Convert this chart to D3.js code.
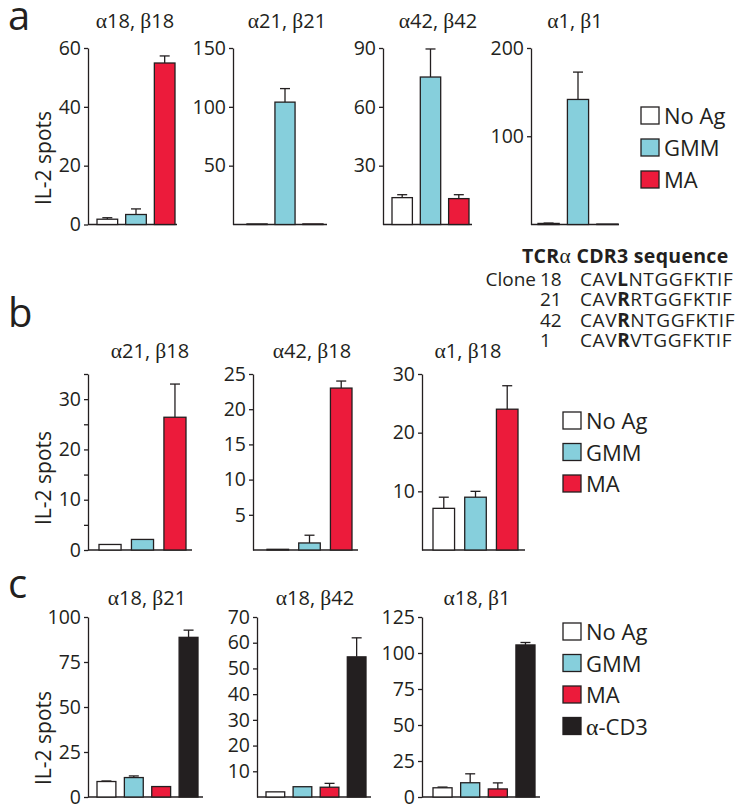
<!DOCTYPE html>
<html><head><meta charset="utf-8">
<script src="https://cdn.jsdelivr.net/npm/d3@7"></script>
<style>html,body{margin:0;padding:0;background:#fff}</style>
</head><body>
<svg id="chart" width="745" height="810"></svg>
<script>
// ---------------- DATA ----------------
const conditions3 = ["No Ag", "GMM", "MA"];
const conditions4 = ["No Ag", "GMM", "MA", "α-CD3"];

const titlesA = ["α18, β18", "α21, β21", "α42, β42", "α1, β1"];
const meansA = [[1.8, 3.4, 54.9], [0.5, 104, 0.5], [13.7, 75.2, 13.2], [1.2, 141.7, 0.5]];
const errsA  = [[0.5, 1.9, 2.4], [0, 11.5, 0], [1.5, 14.3, 2.0], [0.4, 31, 0]];
const maxA   = [60, 150, 90, 200];
const ticksA = [[0, 20, 40, 60], [50, 100, 150], [30, 60, 90], [100, 200]];

const titlesB = ["α21, β18", "α42, β18", "α1, β18"];
const meansB = [[1.1, 2.1, 26.4], [0.1, 1.0, 23.0], [7.1, 9.0, 24.0]];
const errsB  = [[0, 0, 6.6], [0, 1.1, 1.0], [1.9, 1.0, 4.0]];
const maxB   = [35, 25, 30];
const ticksB = [[0, 10, 20, 30], [5, 10, 15, 20, 25], [10, 20, 30]];
const minorTicksB = [[5, 15, 25, 35], [], []];

const titlesC = ["α18, β21", "α18, β42", "α18, β1"];
const meansC = [[8.6, 10.8, 5.8, 88.7], [2.0, 4.0, 3.8, 54.5], [6.4, 9.9, 5.6, 105.6]];
const errsC  = [[0.3, 0.9, 0, 4.0], [0, 0, 1.5, 7.4], [0.5, 6.2, 4.2, 1.7]];
const maxC   = [100, 70, 125];
const ticksC = [[0, 25, 50, 75, 100], [10, 20, 30, 40, 50, 60, 70], [0, 25, 50, 75, 100, 125]];

const yLabel = "IL-2 spots";
const panelLetters = ["a", "b", "c"];

const tcrHeader = ["TCR", "α", " CDR3 sequence"];
const cloneIds = ["18", "21", "42", "1"];
const cdr3Seqs = ["CAVLNTGGFKTIF", "CAVRRTGGFKTIF", "CAVRNTGGFKTIF", "CAVRVTGGFKTIF"];
const boldPos = 3;

// ---------------- STYLE / LAYOUT ----------------
const colors = {"No Ag": "#ffffff", "GMM": "#86cfdc", "MA": "#ec1b3b", "α-CD3": "#231f20"};
const ink = "#231f20";
const sans = "'Open Sans', 'Noto Sans', sans-serif";
const serif = "'Liberation Serif', 'DejaVu Serif', serif";

const svg = d3.select("#chart");

function rich(sel, str) {
  str.split(/([αβ])/).forEach(p => {
    if (!p) return;
    const t = sel.append("tspan").text(p);
    if (/[αβ]/.test(p)) t.attr("font-family", serif).attr("font-size", "1.08em");
  });
  return sel;
}

function drawPlot(cfg) {
  const g = svg.append("g");
  const y = d3.scaleLinear().domain([0, cfg.max]).range([cfg.yBot, cfg.yTop]);
  const x = d3.scaleBand().domain(cfg.cats).range([cfg.barL, cfg.barR]).paddingInner(cfg.pad).paddingOuter(0);

  // y axis
  const ax = g.append("g").attr("transform", `translate(${cfg.axisX},0)`)
    .call(d3.axisLeft(y).tickValues(cfg.ticks).tickSize(4).tickSizeOuter(0).tickPadding(3));
  ax.selectAll("path,line").attr("stroke", ink).attr("stroke-width", 1.3);
  ax.selectAll("text").attr("font-family", sans).attr("font-size", 19.5).attr("fill", ink);
  if (cfg.minor && cfg.minor.length) {
    const mx = g.append("g").attr("transform", `translate(${cfg.axisX},0)`)
      .call(d3.axisLeft(y).tickValues(cfg.minor).tickSize(4).tickSizeOuter(0).tickFormat(""));
    mx.select("path").remove();
    mx.selectAll("line").attr("stroke", ink).attr("stroke-width", 1.3);
  }
  // baseline
  g.append("line").attr("x1", cfg.axisX).attr("x2", cfg.endX)
    .attr("y1", y(0)).attr("y2", y(0)).attr("stroke", ink).attr("stroke-width", 1.5);

  const data = cfg.cats.map((c, i) => ({c, v: cfg.means[i], e: cfg.errs[i]}));
  // error bars
  const eg = g.selectAll(".err").data(data.filter(d => d.e > 0)).enter().append("g");
  eg.append("line").attr("x1", d => x(d.c) + x.bandwidth() / 2).attr("x2", d => x(d.c) + x.bandwidth() / 2)
    .attr("y1", d => y(d.v)).attr("y2", d => y(d.v + d.e)).attr("stroke", ink).attr("stroke-width", 1.3);
  eg.append("line").attr("x1", d => x(d.c) + x.bandwidth() / 2 - 5).attr("x2", d => x(d.c) + x.bandwidth() / 2 + 5)
    .attr("y1", d => y(d.v + d.e)).attr("y2", d => y(d.v + d.e)).attr("stroke", ink).attr("stroke-width", 1.3);
  // bars
  g.selectAll(".bar").data(data).enter().append("rect")
    .attr("x", d => x(d.c)).attr("width", x.bandwidth())
    .attr("y", d => y(d.v)).attr("height", d => y(0) - y(d.v))
    .attr("fill", d => colors[d.c]).attr("stroke", ink).attr("stroke-width", 1.3);

  // title
  rich(g.append("text").attr("x", cfg.titleX).attr("y", cfg.titleY).attr("text-anchor", "middle")
    .attr("font-family", sans).attr("font-size", 20).attr("fill", ink), cfg.title);
  // y label
  if (cfg.ylab) {
    g.append("text").attr("transform", `translate(${cfg.ylabX},${cfg.ylabY}) rotate(-90)`)
      .attr("text-anchor", "middle").attr("font-family", sans).attr("font-size", 21).attr("fill", ink)
      .text(yLabel);
  }
}

function drawLegend(cats, x0, y0, step) {
  const g = svg.append("g");
  cats.forEach((c, i) => {
    g.append("rect").attr("x", x0).attr("y", y0 + i * step).attr("width", 18).attr("height", 17)
      .attr("fill", colors[c]).attr("stroke", ink).attr("stroke-width", 1.3);
    rich(g.append("text").attr("x", x0 + 23).attr("y", y0 + i * step + 17)
      .attr("font-family", sans).attr("font-size", 22).attr("fill", ink), c);
  });
}

// ---------- panel a ----------
const layoutA = [
  {axisX: 88, endX: 177, barL: 97, barR: 175, titleX: 135},
  {axisX: 233, endX: 327, barL: 247, barR: 323, titleX: 287},
  {axisX: 383, endX: 472, barL: 392, barR: 469, titleX: 438},
  {axisX: 531, endX: 619, barL: 538, barR: 618, titleX: 575}
];
layoutA.forEach((L, i) => drawPlot(Object.assign({}, L, {
  cats: conditions3, means: meansA[i], errs: errsA[i], max: maxA[i], ticks: ticksA[i],
  yTop: 48, yBot: 224.5, pad: 0.28, titleY: 28, title: titlesA[i],
  ylab: i === 0, ylabX: 51, ylabY: 158
})));
drawLegend(conditions3, 641, 107, 32);

// ---------- panel b ----------
const layoutB = [
  {axisX: 88, endX: 192, barL: 99, barR: 186, titleX: 150},
  {axisX: 253, endX: 358, barL: 267, barR: 352, titleX: 312},
  {axisX: 422, endX: 525, barL: 433, barR: 518, titleX: 468}
];
layoutB.forEach((L, i) => drawPlot(Object.assign({}, L, {
  cats: conditions3, means: meansB[i], errs: errsB[i], max: maxB[i], ticks: ticksB[i], minor: minorTicksB[i],
  yTop: 374, yBot: 550, pad: 0.32, titleY: 358, title: titlesB[i],
  ylab: i === 0, ylabX: 51, ylabY: 478
})));
drawLegend(conditions3, 563, 412, 31.5);

// ---------- panel c ----------
const layoutC = [
  {axisX: 88, endX: 203, barL: 97, barR: 198, titleX: 147},
  {axisX: 257, endX: 371, barL: 266, barR: 366, titleX: 315},
  {axisX: 422, endX: 540, barL: 433, barR: 535, titleX: 477}
];
layoutC.forEach((L, i) => drawPlot(Object.assign({}, L, {
  cats: conditions4, means: meansC[i], errs: errsC[i], max: maxC[i], ticks: ticksC[i],
  yTop: 617, yBot: 797, pad: 0.31, titleY: 605, title: titlesC[i],
  ylab: i === 0, ylabX: 51, ylabY: 738
})));
drawLegend(conditions4, 563, 623, 31.5);

// ---------- panel letters ----------
[[8, 30], [8, 327], [8, 598]].forEach((p, i) => {
  svg.append("text").attr("x", p[0]).attr("y", p[1]).attr("font-family", sans)
    .attr("font-size", 40).attr("fill", ink).text(panelLetters[i]);
});

// ---------- TCR table ----------
const hdr = svg.append("text").attr("x", 522).attr("y", 263).attr("font-family", sans)
  .attr("font-size", 19.5).attr("font-weight", "bold").attr("letter-spacing", 0.3).attr("fill", ink);
tcrHeader.forEach(p => {
  const t = hdr.append("tspan").text(p);
  if (p === "α") t.attr("font-family", serif).attr("font-weight", "normal").attr("font-size", "1.1em");
});
svg.append("text").attr("x", 536).attr("y", 286).attr("text-anchor", "end")
  .attr("font-family", sans).attr("font-size", 19).attr("fill", ink).text("Clone");
cloneIds.forEach((c, i) => {
  const yy = 286 + i * 20.3;
  svg.append("text").attr("x", 540).attr("y", yy).attr("font-family", sans)
    .attr("font-size", 19).attr("fill", ink).text(c);
  const t = svg.append("text").attr("x", 580).attr("y", yy).attr("font-family", sans)
    .attr("font-size", 19).attr("letter-spacing", 0.6).attr("fill", ink);
  const s = cdr3Seqs[i];
  t.append("tspan").text(s.slice(0, boldPos));
  t.append("tspan").attr("font-weight", "bold").text(s[boldPos]);
  t.append("tspan").text(s.slice(boldPos + 1));
});
</script>
</body></html>
